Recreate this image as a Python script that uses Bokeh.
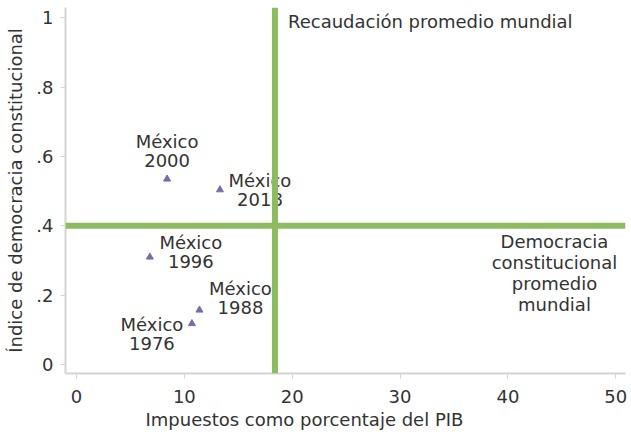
from bokeh.plotting import figure
from bokeh.models import ColumnDataSource, Span, FixedTicker, CustomJSTickFormatter, Range1d, Title
from bokeh.core.properties import value
from bokeh.embed import file_html
from bokeh.resources import INLINE

# ---- data ----
years = ["1976", "1988", "1996", "2000", "2018"]
tax_pct_gdp = [10.7, 11.4, 6.8, 8.4, 13.3]
democracy_index = [0.118, 0.157, 0.310, 0.535, 0.504]
world_avg_tax = 18.4
world_avg_democracy = 0.40
x_ticks = [0, 10, 20, 30, 40, 50]
y_ticks = [0, 0.2, 0.4, 0.6, 0.8, 1.0]

# ---- label placement (styling, in pixels) ----
label_dx = {"1976": -40, "1988": 41, "1996": 41, "2000": 0, "2018": 40}
label_dy = {"1976": 10, "1988": -12, "1996": -5, "2000": -28, "2018": 0}

FONT = "DejaVu Sans"
FS = "18px"
TXT = "#333333"
GREEN = "#8dbb62"
PURPLE = "#7b69ad"
AX = "#d4d4d4"

x_start, x_end = -1.02, 50.9
y_start, y_end = -0.026, 1.03

p = figure(width=628, height=431, output_backend="svg", toolbar_location=None,
           x_range=Range1d(x_start, x_end), y_range=Range1d(y_start, y_end),
           min_border_left=65, min_border_right=3, min_border_top=7, min_border_bottom=0)
p.outline_line_color = None
p.grid.grid_line_color = None
p.background_fill_color = "white"
p.border_fill_color = "white"

src = ColumnDataSource(dict(
    x=tax_pct_gdp, y=democracy_index,
    label=["México\n" + y for y in years],
    dx=[label_dx[y] for y in years],
    dy=[label_dy[y] for y in years],
))

# world average lines
p.add_layout(Span(location=world_avg_tax, dimension="height", line_color=GREEN, line_width=6))
p.add_layout(Span(location=world_avg_democracy, dimension="width", line_color=GREEN, line_width=6))

p.scatter("x", "y", source=src, marker="triangle", size=7, fill_color=PURPLE, line_color=PURPLE)

p.text("x", "y", text="label", source=src, x_offset="dx", y_offset="dy",
       text_align="center", text_baseline="middle", text_font=value(FONT),
       text_font_size=FS, text_color=TXT, text_line_height=0.9)

p.text(x=[world_avg_tax], y=[y_end], text=["Recaudación promedio mundial"],
       x_offset=13, y_offset=14, text_align="left", text_baseline="middle",
       text_font=value(FONT), text_font_size=FS, text_color=TXT)

p.text(x=[x_end], y=[world_avg_democracy], text=["Democracia\nconstitucional\npromedio\nmundial"],
       x_offset=-71, y_offset=47, text_align="center", text_baseline="middle",
       text_font=value(FONT), text_font_size=FS, text_color=TXT, text_line_height=1.0)

for ax in (p.xaxis[0], p.yaxis[0]):
    ax.axis_line_color = AX
    ax.axis_line_width = 2
    ax.major_tick_line_color = AX
    ax.major_tick_in = 0
    ax.major_tick_out = 5
    ax.minor_tick_line_color = None
    ax.major_label_text_font = FONT
    ax.major_label_text_font_size = FS
    ax.major_label_text_color = TXT
    ax.axis_label_text_font = FONT
    ax.axis_label_text_font_size = FS
    ax.axis_label_text_color = TXT
    ax.axis_label_text_font_style = "normal"

p.xaxis.ticker = FixedTicker(ticks=x_ticks)
p.yaxis.ticker = FixedTicker(ticks=y_ticks)
p.yaxis.formatter = CustomJSTickFormatter(code="""
    if (Math.abs(tick) < 1e-9) return "0";
    if (Math.abs(tick - 1) < 1e-9) return "1";
    return tick.toFixed(1).replace(/^0/, "");
""")
p.yaxis.major_label_orientation = "horizontal"
p.yaxis.axis_label = "Índice de democracia constitucional"
p.xaxis.major_label_standoff = 11
p.yaxis.major_label_standoff = 7
p.yaxis.axis_label_standoff = 7

xtitle = Title(text="Impuestos como porcentaje del PIB", align="left", offset=80,
               text_font=FONT, text_font_size=FS, text_font_style="normal",
               text_color=TXT, standoff=3)
p.add_layout(xtitle, "below")

open("out.html", "w").write(file_html(p, INLINE))
